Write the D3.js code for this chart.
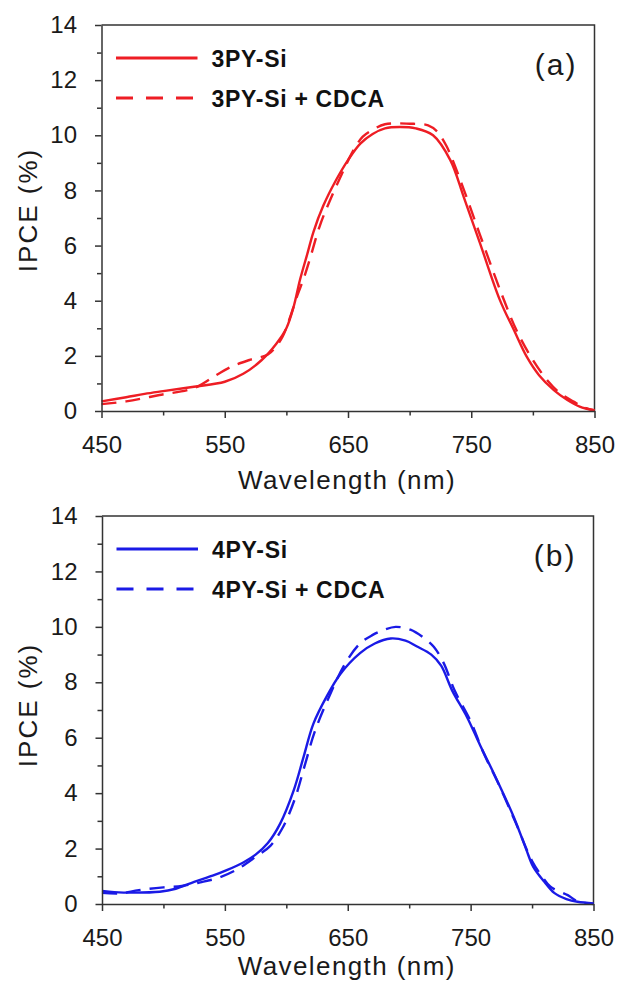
<!DOCTYPE html>
<html>
<head>
<meta charset="utf-8">
<script src="https://cdn.jsdelivr.net/npm/d3@7"></script>
<style>
  html, body { margin: 0; padding: 0; background: #fff; }
  svg { display: block; }
  text { font-family: Arial, "Liberation Sans", Helvetica, sans-serif; }
</style>
</head>
<body>
<svg id="chart" width="619" height="982"></svg>
<script>
// ---------- data ----------
const xTicks = [450, 550, 650, 750, 850];
const xMinorTicks = [500, 600, 700, 800];
const yTicks = [0, 2, 4, 6, 8, 10, 12, 14];
const yMinorTicks = [1, 3, 5, 7, 9, 11, 13];

const panelLabels = ["(a)", "(b)"];
const seriesNamesA = ["3PY-Si", "3PY-Si + CDCA"];
const seriesNamesB = ["4PY-Si", "4PY-Si + CDCA"];

// Panel (a) 3PY-Si, solid
const waveA1 = [450, 470, 485, 500, 525, 550, 565, 580, 592, 600, 606, 611, 617, 622, 630, 640, 650, 660, 670, 680, 692, 705, 719, 733, 744, 757, 773, 785, 795, 805, 817, 828, 838, 850];
const ipceA1 = [0.35, 0.5, 0.62, 0.72, 0.88, 1.06, 1.35, 1.85, 2.45, 3.0, 3.8, 4.75, 5.7, 6.5, 7.45, 8.35, 9.1, 9.7, 10.05, 10.25, 10.3, 10.25, 10.0, 9.1, 7.75, 6.1, 4.05, 2.9, 1.97, 1.3, 0.76, 0.4, 0.16, 0.02];
// Panel (a) 3PY-Si + CDCA, dashed
const waveA2 = [450, 470, 497, 525, 543, 555, 570, 585, 591, 597, 603, 609, 614, 619, 627, 635, 645, 655, 662, 670, 680, 700, 715, 722, 730, 745, 757, 775, 787, 800, 812, 822, 833, 842, 850];
const ipceA2 = [0.25, 0.35, 0.58, 0.83, 1.3, 1.6, 1.85, 2.05, 2.3, 2.7, 3.4, 4.2, 4.8, 5.5, 6.7, 7.6, 8.6, 9.5, 9.95, 10.2, 10.4, 10.42, 10.36, 10.15, 9.6, 7.9, 6.4, 4.2, 2.9, 1.85, 1.1, 0.65, 0.34, 0.12, 0.03];

// Panel (b) 4PY-Si, solid
const waveB1 = [450, 460, 475, 497, 510, 525, 540, 552, 565, 575, 585, 595, 606, 614, 622, 633, 644, 660, 672, 685, 697, 706, 718, 726, 735, 747, 758, 769, 785, 795, 801, 810, 818, 828, 837, 850];
const ipceB1 = [0.47, 0.43, 0.41, 0.44, 0.55, 0.8, 1.02, 1.23, 1.5, 1.78, 2.2, 2.9, 4.1, 5.3, 6.5, 7.5, 8.3, 9.05, 9.4, 9.58, 9.5, 9.3, 9.0, 8.6, 7.7, 6.75, 5.7, 4.7, 3.15, 2.0, 1.34, 0.8, 0.4, 0.18, 0.08, 0.02];
// Panel (b) 4PY-Si + CDCA, dashed
const waveB2 = [450, 465, 480, 500, 515, 530, 545, 560, 575, 587, 597, 607, 615, 623, 634, 648, 660, 670, 680, 689, 701, 712, 720, 728, 737, 750, 760, 772, 787, 800, 808, 815, 829, 837, 850];
const ipceB2 = [0.4, 0.38, 0.5, 0.6, 0.65, 0.78, 0.95, 1.25, 1.7, 2.1, 2.75, 3.8, 5.0, 6.2, 7.4, 8.68, 9.4, 9.7, 9.9, 10.0, 9.9, 9.6, 9.28, 8.7, 7.7, 6.6, 5.5, 4.4, 2.9, 1.55, 1.0, 0.62, 0.32, 0.1, 0.0];

// ---------- drawing ----------
const svg = d3.select("#chart");
const axisColor = "#333";

const panels = [
  { top: 25, bottom: 411, left: 101.5, right: 594.5, color: "#ee1d24",
    label: panelLabels[0], names: seriesNamesA,
    series: [{x: waveA1, y: ipceA1, dash: null}, {x: waveA2, y: ipceA2, dash: "15,9"}],
    titleDy: 78, ipceY: 210 },
  { top: 516, bottom: 904, left: 102, right: 593.5, color: "#1a1ae6",
    label: panelLabels[1], names: seriesNamesB,
    series: [{x: waveB1, y: ipceB1, dash: null}, {x: waveB2, y: ipceB2, dash: "15,9"}],
    titleDy: 71, ipceY: 705 }
];

panels.forEach(p => {
  const x = d3.scaleLinear().domain([450, 850]).range([p.left, p.right]);
  const y = d3.scaleLinear().domain([0, 14]).range([p.bottom, p.top]);
  const g = svg.append("g");

  // frame top and right
  g.append("path")
    .attr("d", `M${p.left},${p.top}H${p.right}V${p.bottom}`)
    .attr("fill", "none").attr("stroke", axisColor).attr("stroke-width", 1.5);

  // curves
  const line = d3.line().x(d => x(d[0])).y(d => y(d[1])).curve(d3.curveCatmullRom.alpha(0.5));
  p.series.forEach(s => {
    const pts = s.x.map((v, i) => [v, s.y[i]]);
    g.append("path").datum(pts)
      .attr("d", line)
      .attr("fill", "none")
      .attr("stroke", p.color)
      .attr("stroke-width", 2.4)
      .attr("stroke-dasharray", s.dash);
  });

  // x axis
  const xAxis = g.append("g").attr("transform", `translate(0,${p.bottom})`)
    .call(d3.axisBottom(x).tickValues(xTicks).tickSize(7).tickSizeOuter(0).tickPadding(18).tickFormat(d3.format("d")));
  g.append("g").attr("transform", `translate(0,${p.bottom})`)
    .call(d3.axisBottom(x).tickValues(xMinorTicks).tickSize(4.5).tickSizeOuter(0).tickFormat(""))
    .call(a => a.select(".domain").remove());

  // y axis
  const yAxis = g.append("g").attr("transform", `translate(${p.left},0)`)
    .call(d3.axisLeft(y).tickValues(yTicks).tickSize(6.5).tickSizeOuter(0).tickPadding(18).tickFormat(d3.format("d")));
  g.append("g").attr("transform", `translate(${p.left},0)`)
    .call(d3.axisLeft(y).tickValues(yMinorTicks).tickSize(4.5).tickSizeOuter(0).tickFormat(""))
    .call(a => a.select(".domain").remove());

  g.selectAll(".domain").attr("stroke", axisColor).attr("stroke-width", 1.5);
  g.selectAll(".tick line").attr("stroke", axisColor).attr("stroke-width", 1.5);
  g.selectAll(".tick text").attr("fill", "#1a1a1a").style("font-size", "24px")
    .style("font-family", "Arial, 'Liberation Sans', sans-serif");
  xAxis.selectAll(".tick text").attr("dy", "0.71em");

  // axis titles
  g.append("text")
    .attr("x", (p.left + p.right) / 2 - 1)
    .attr("y", p.bottom + p.titleDy)
    .attr("text-anchor", "middle")
    .attr("fill", "#1a1a1a")
    .style("font-size", "26px").style("letter-spacing", "1.4px")
    .text("Wavelength (nm)");
  g.append("text")
    .attr("transform", `translate(37,${p.ipceY}) rotate(-90)`)
    .attr("text-anchor", "middle")
    .attr("fill", "#1a1a1a")
    .style("font-size", "26px").style("letter-spacing", "2px")
    .text("IPCE (%)");

  // panel label
  g.append("text")
    .attr("x", p.right - 17)
    .attr("y", p.top + 50)
    .attr("text-anchor", "end")
    .attr("fill", "#1a1a1a")
    .style("font-size", "30px").style("letter-spacing", "2px")
    .text(p.label);

  // legend
  const lx0 = p.left + 14.5, lx1 = p.left + 96, tx = p.left + 110;
  const ly = [p.top + 33, p.top + 73];
  p.names.forEach((name, i) => {
    g.append("line")
      .attr("x1", lx0).attr("x2", lx1).attr("y1", ly[i]).attr("y2", ly[i])
      .attr("stroke", p.color).attr("stroke-width", 3)
      .attr("stroke-dasharray", i === 0 ? null : "17,13");
    g.append("text")
      .attr("x", tx).attr("y", ly[i] + 8.5)
      .attr("fill", "#111")
      .style("font-size", "23px").style("font-weight", "bold").style("letter-spacing", "0.7px")
      .text(name);
  });
});
</script>
</body>
</html>
